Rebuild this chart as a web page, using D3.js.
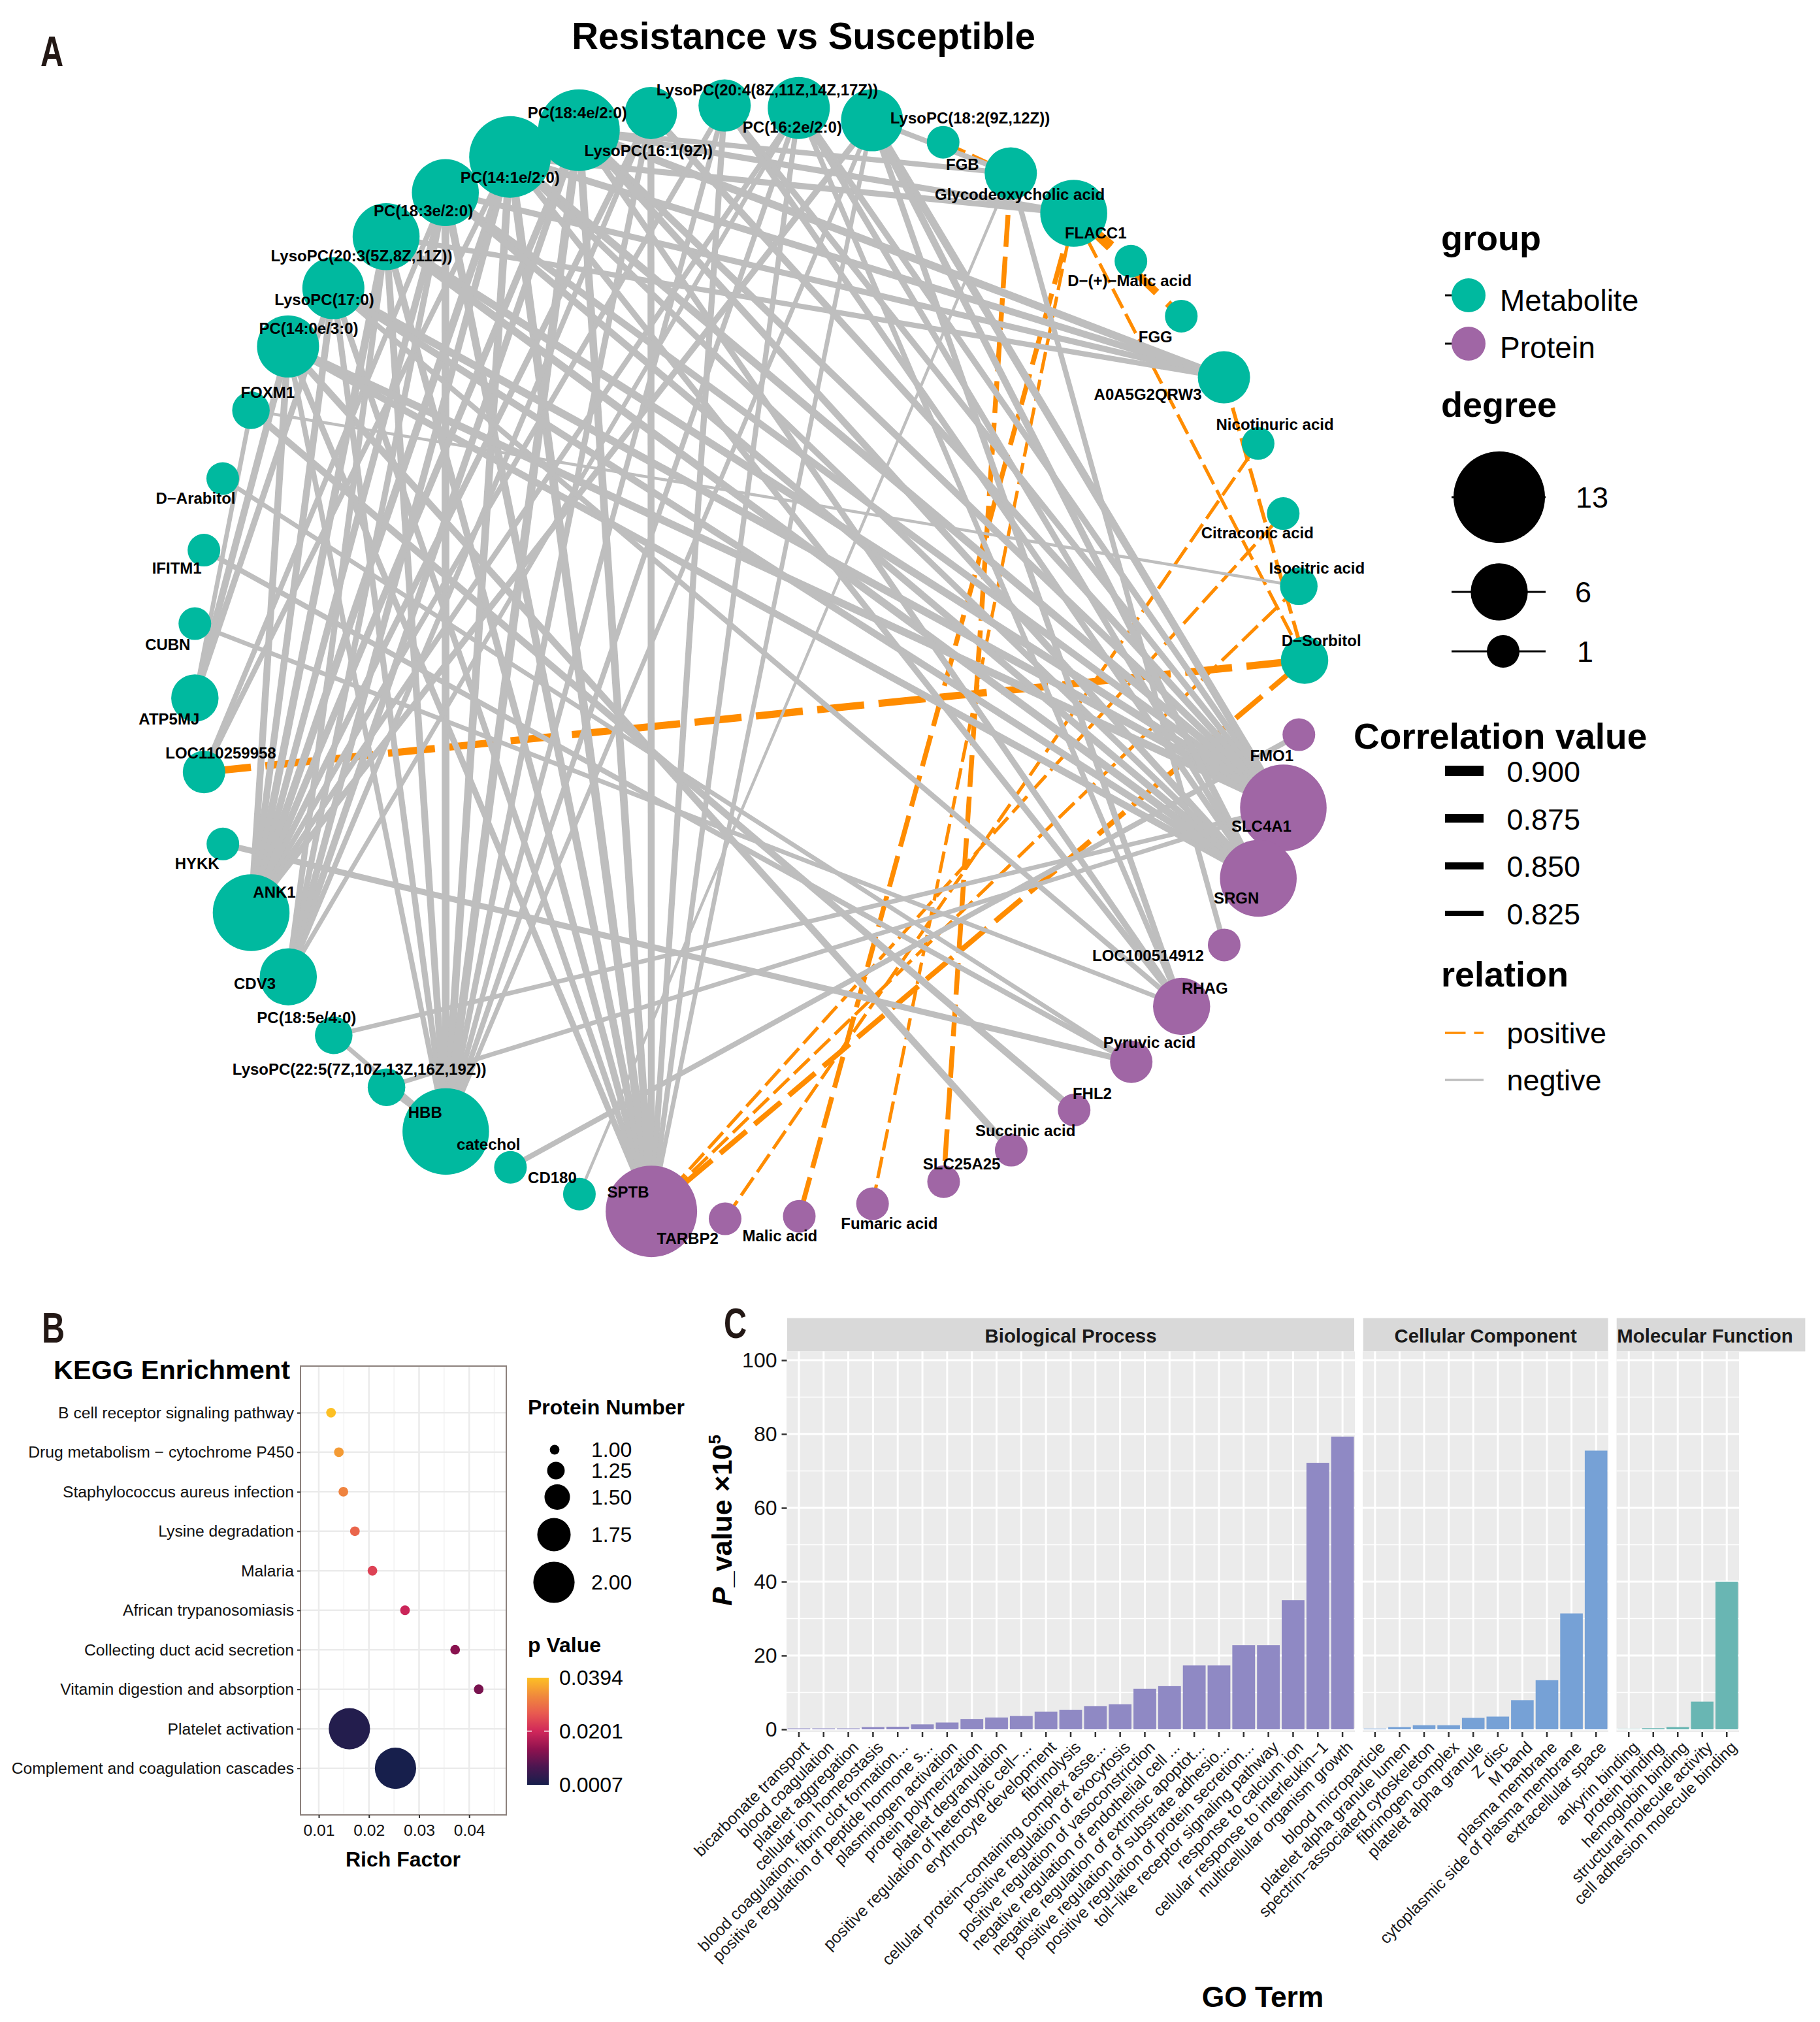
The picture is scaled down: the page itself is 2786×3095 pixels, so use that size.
<!DOCTYPE html>
<html><head><meta charset="utf-8">
<script src="https://cdn.jsdelivr.net/npm/d3@7"></script>
<style>html,body{margin:0;padding:0;background:#fff}svg{display:block}text{font-family:"Liberation Sans",Arial,sans-serif}</style>
</head><body><div id="c"></div>
<script>
// ---------- Panel A data ----------
const nodeNames=["PC(18:4e/2:0)","LysoPC(20:4(8Z,11Z,14Z,17Z))","PC(16:2e/2:0)","LysoPC(18:2(9Z,12Z))","FGB","Glycodeoxycholic acid","FLACC1","D−(+)−Malic acid","FGG","A0A5G2QRW3","Nicotinuric acid","Citraconic acid","Isocitric acid","D−Sorbitol","FMO1","SLC4A1","SRGN","LOC100514912","RHAG","Pyruvic acid","FHL2","Succinic acid","SLC25A25","Fumaric acid","Malic acid","TARBP2","SPTB","CD180","catechol","HBB","LysoPC(22:5(7Z,10Z,13Z,16Z,19Z))","PC(18:5e/4:0)","CDV3","ANK1","HYKK","LOC110259958","ATP5MJ","CUBN","IFITM1","D−Arabitol","FOXM1","PC(14:0e/3:0)","LysoPC(17:0)","LysoPC(20:3(5Z,8Z,11Z))","PC(18:3e/2:0)","PC(14:1e/2:0)","LysoPC(16:1(9Z))"];
const nodeDegrees=[5,5,7,7,1,5,8,1,1,5,1,1,2,4,1,12,10,1,6,3,1,1,1,1,1,1,13,1,1,12,2,2,6,10,1,3,4,1,1,1,2,7,7,8,8,11,11];
const nodeGroups=nodeNames.map((n,i)=>(i>=14&&i<=26)?"Protein":"Metabolite");
// edges: [node number, node number, correlation]
const positiveEdges=[[36,14,.855],[7,8,.86],[7,9,.86],[5,6,.81],[6,23,.825],[7,25,.825],[7,24,.805],[7,14,.805],[10,14,.81],[27,14,.83],[27,13,.805],[27,12,.805],[26,11,.805]];
const negativeEdges=[[4,6,.83],[47,6,.83],[18,6,.83],[28,6,.80],[46,7,.84],[47,7,.84],[13,41,.80],[22,42,.85],[21,41,.85],[20,40,.82],[20,39,.83],[20,35,.84],[19,38,.82],[29,15,.83],[31,16,.82],[32,16,.82],[32,30,.82],[31,30,.83],
[47,10,.86],[46,10,.85],[45,10,.84],[44,10,.83],[36,46,.83],[36,45,.83],[37,41,.82],[37,42,.85],[37,43,.84],
[42,30,.83],[43,30,.84],[44,30,.85],[45,30,.86],[46,30,.86],[47,30,.87],[1,30,.84],[2,30,.83],[3,30,.83],[4,30,.82],
[42,27,.84],[43,27,.84],[44,27,.85],[45,27,.86],[46,27,.87],[47,27,.86],[1,27,.85],[2,27,.84],[3,27,.83],[4,27,.82],
[42,34,.85],[43,34,.85],[44,34,.86],[45,34,.85],[46,34,.86],[47,34,.85],[1,34,.84],[2,34,.83],[3,34,.83],[4,34,.84],
[47,33,.85],[46,33,.85],[45,33,.84],[44,33,.84],[3,33,.82],[1,33,.83],
[42,16,.86],[43,16,.86],[44,16,.86],[45,16,.85],[46,16,.86],[47,16,.85],[1,16,.85],[2,16,.84],[3,16,.84],[4,16,.86],
[42,17,.85],[43,17,.85],[44,17,.86],[45,17,.85],[46,17,.84],[47,17,.85],[2,17,.84],[3,17,.84],[4,17,.85],
[47,19,.84],[46,19,.84],[43,19,.83],[3,19,.83],[4,19,.84]];
const degreeLegend=[13,6,1];
const corrLegend=[.9,.875,.85,.825];
// ---------- Panel B data ----------
const keggTerms=["B cell receptor signaling pathway","Drug metabolism − cytochrome P450","Staphylococcus aureus infection","Lysine degradation","Malaria","African trypanosomiasis","Collecting duct acid secretion","Vitamin digestion and absorption","Platelet activation","Complement and coagulation cascades"];
const keggRich=[.01244,.014,.0149,.0172,.0207,.0272,.0372,.0419,.0161,.0253];
const keggProteins=[1,1,1,1,1,1,1,1,2,2];
const keggP=[.0394,.035,.032,.028,.0235,.0195,.013,.0115,.0022,.0007];
const keggSizeLegend=[1,1.25,1.5,1.75,2];
const keggPLegend=[.0394,.0201,.0007];
// ---------- Panel C data ----------
const bpTerms=["bicarbonate transport","blood coagulation","platelet aggregation","cellular ion homeostasis","blood coagulation, fibrin clot formation...","positive regulation of peptide hormone s...","plasminogen activation","protein polymerization","platelet degranulation","positive regulation of heterotypic cell−...","erythrocyte development","fibrinolysis","cellular protein−containing complex asse...","positive regulation of exocytosis","positive regulation of vasoconstriction","negative regulation of endothelial cell ...","negative regulation of extrinsic apoptot...","positive regulation of substrate adhesio...","positive regulation of protein secretion...","toll−like receptor signaling pathway","response to calcium ion","cellular response to interleukin−1","multicellular organism growth"];
const bpValues=[.25,.25,.25,.6,.7,1.35,1.85,2.8,3.2,3.6,4.8,5.3,6.3,6.8,11,11.7,17.3,17.3,22.8,22.8,35,72.2,79.3];
const ccTerms=["blood microparticle","platelet alpha granule lumen","spectrin−associated cytoskeleton","fibrinogen complex","platelet alpha granule","Z disc","M band","plasma membrane","cytoplasmic side of plasma membrane","extracellular space"];
const ccValues=[.2,.6,1.1,1.1,3.1,3.45,7.9,13.3,31.4,75.5];
const mfTerms=["ankyrin binding","protein binding","hemoglobin binding","structural molecule activity","cell adhesion molecule binding"];
const mfValues=[.1,.3,.6,7.5,40];
const yTicksC=[0,20,40,60,80,100];

// ---------- Layout constants ----------
const W=2786,H=3095;
const svg=d3.select("#c").append("svg").attr("width",W).attr("height",H).attr("viewBox",[0,0,W,H]);
svg.append("rect").attr("width",W).attr("height",H).attr("fill","#fff");
const T=(s,x,y,size,opt={})=>svg.append("text").attr("x",x).attr("y",y).attr("font-size",size).attr("font-weight",opt.b?"bold":"normal").attr("text-anchor",opt.a||"start").attr("fill",opt.c||"#000");
const txt=(str,x,y,size,opt={})=>T(svg,x,y,size,opt).text(str);

// Panel letters (narrow heavy)
[["A",62,101],["B",64,2055],["C",1108,2048]].forEach(([l,x,y])=>{
  svg.append("text").attr("transform",`translate(${x},${y}) scale(0.76,1)`).attr("font-size",64).attr("font-weight","bold").attr("fill","#231815").text(l);
});
txt("Resistance vs Susceptible",1230,75,56.5,{b:1,a:"middle"});

// ---------- Panel A ----------
const GREEN="#00B99F",PURPLE="#A066A5",ORANGE="#FF8C00",GREY="#BEBEBE";
const cx=1147,cy=1011,R=850;
const angle=d3.scaleLinear().domain([1,48]).range([-9.6,350.4]);
const nodeX=k=>{const a=angle(k)*Math.PI/180;return cx+R*Math.sin(a)-9*Math.abs(Math.cos(a))};
const nodeY=k=>{const a=angle(k)*Math.PI/180;return cy-R*Math.cos(a)+5*Math.max(0,-Math.cos(a))};
const rScale=d3.scaleLinear().domain([1,13]).range([25,70]);
const wScale=d3.scaleLinear().domain([.825,.9]).range([7.5,16.5]);
const colorG=d3.scaleOrdinal().domain(["Metabolite","Protein"]).range([GREEN,PURPLE]);
const gE=svg.append("g").attr("fill","none");
gE.selectAll("line.p").data(positiveEdges).join("line").attr("class","p")
  .attr("x1",d=>nodeX(d[0])).attr("y1",d=>nodeY(d[0])).attr("x2",d=>nodeX(d[1])).attr("y2",d=>nodeY(d[1]))
  .attr("stroke",ORANGE).attr("stroke-width",d=>wScale(d[2])).attr("stroke-dasharray",d=>{const w=wScale(d[2]);return `${6.5*w} ${2*w}`});
gE.selectAll("line.n").data(negativeEdges).join("line").attr("class","n")
  .attr("x1",d=>nodeX(d[0])).attr("y1",d=>nodeY(d[0])).attr("x2",d=>nodeX(d[1])).attr("y2",d=>nodeY(d[1]))
  .attr("stroke",GREY).attr("stroke-width",d=>wScale(d[2]));
svg.append("g").selectAll("circle").data(nodeNames).join("circle")
  .attr("cx",(d,i)=>nodeX(i+1)).attr("cy",(d,i)=>nodeY(i+1))
  .attr("r",(d,i)=>rScale(nodeDegrees[i])).attr("fill",(d,i)=>colorG(nodeGroups[i]));
// label offsets from the node centre, in layout units
const labelOffsets=[[-57,0],[33,-12],[-5,15],[76,-2],[15,17],[7,16],[17,15],[-1,15],[-20,16],[-59,13],[13,-15],[-20,15],[14,-14],[13,-15],[-21,16],[-17,14],[-17,15],[-59,8],[18,-14],[14,-15],[14,-13],[11,-15],[14,-14],[13,15],[-15,15],[-29,15],[-18,-15],[-21,-13],[-17,-18],[-16,-15],[-21,-14],[-21,-14],[-26,5],[18,-16],[-20,15],[13,-15],[-20,16],[-21,16],[-21,14],[-21,15],[13,-14],[16,-14],[-7,9],[-19,15],[-17,14],[0,16],[54,16]];
svg.append("g").selectAll("text").data(nodeNames).join("text")
  .attr("x",(d,i)=>nodeX(i+1)+labelOffsets[i][0]*1.975).attr("y",(d,i)=>nodeY(i+1)+labelOffsets[i][1]*1.975+8.5)
  .attr("text-anchor","middle").attr("font-size",24).attr("font-weight","bold").attr("fill","#000").text(d=>d);

// Legends A
txt("group",2206,383,54,{b:1});
colorG.domain().forEach((g,i)=>{
  const y=[452,526][i];
  svg.append("line").attr("x1",2212).attr("x2",2240).attr("y1",y).attr("y2",y).attr("stroke","#000").attr("stroke-width",3);
  svg.append("circle").attr("cx",2248).attr("cy",y).attr("r",26).attr("fill",colorG(g));
  txt(g,2296,[476,548][i],46);
});
txt("degree",2206,638,54,{b:1});
[[761,2295,2412,777],[906,2295,2411,921.6],[997,2301,2414,1013]].forEach(([y,x,lx,ly],i)=>{
  svg.append("line").attr("x1",2222).attr("x2",2366).attr("y1",y).attr("y2",y).attr("stroke","#000").attr("stroke-width",3);
  svg.append("circle").attr("cx",x).attr("cy",y).attr("r",rScale(degreeLegend[i])).attr("fill","#000");
  txt(String(degreeLegend[i]),lx,ly,45);
});
txt("Correlation value",2072,1146,55,{b:1});
const corrLegW=d3.scaleLinear().domain([.825,.9]).range([8,16]);
corrLegend.forEach((v,i)=>{
  const y=1180+i*72.7;
  svg.append("line").attr("x1",2212).attr("x2",2271).attr("y1",y).attr("y2",y).attr("stroke","#000").attr("stroke-width",corrLegW(v));
  txt(d3.format(".3f")(v),2306.5,y+17,45);
});
txt("relation",2206,1510,54,{b:1});
svg.append("line").attr("x1",2212).attr("x2",2271).attr("y1",1581).attr("y2",1581).attr("stroke",ORANGE).attr("stroke-width",3.5).attr("stroke-dasharray","31.5 13");
svg.append("line").attr("x1",2212).attr("x2",2271).attr("y1",1653).attr("y2",1653).attr("stroke",GREY).attr("stroke-width",3.5);
txt("positive",2306.5,1597,45);
txt("negtive",2306.5,1669,45);

// ---------- Panel B ----------
const bB={l:460,r:775,t:2091,b:2778};
const xB=d3.scaleLinear().domain([.00635,.0474]).range([bB.l,bB.r]);
const yB=d3.scalePoint().domain(keggTerms).range([bB.t,bB.b]).padding(1.18);
const sB=d3.scaleLinear().domain([1,2]).range([7.4,31.6]);
const stops=["#171f4c","#4a1650","#8f124f","#d0275a","#e85a50","#f08a3c","#fdc024"];
const cB=d3.scaleLinear().domain(d3.range(7).map(i=>.0007+(.0394-.0007)*i/6)).range(stops);
const gB=svg.append("g");
[.015,.025,.035,.045].forEach(v=>gB.append("line").attr("x1",xB(v)).attr("x2",xB(v)).attr("y1",bB.t).attr("y2",bB.b).attr("stroke","#f2f2f2").attr("stroke-width",1.5));
[.01,.02,.03,.04].forEach(v=>gB.append("line").attr("x1",xB(v)).attr("x2",xB(v)).attr("y1",bB.t).attr("y2",bB.b).attr("stroke","#ebebeb").attr("stroke-width",2.5));
keggTerms.forEach(t=>gB.append("line").attr("x1",bB.l).attr("x2",bB.r).attr("y1",yB(t)).attr("y2",yB(t)).attr("stroke","#ebebeb").attr("stroke-width",2.5));
gB.selectAll("circle").data(keggTerms).join("circle").attr("cx",(d,i)=>xB(keggRich[i])).attr("cy",d=>yB(d)).attr("r",(d,i)=>sB(keggProteins[i])).attr("fill",(d,i)=>cB(keggP[i]));
gB.append("rect").attr("x",bB.l).attr("y",bB.t).attr("width",bB.r-bB.l).attr("height",bB.b-bB.t).attr("fill","none").attr("stroke","#8c817c").attr("stroke-width",2);
const axBx=svg.append("g").attr("transform",`translate(0,${bB.b})`).call(d3.axisBottom(xB).tickValues([.01,.02,.03,.04]).tickFormat(d3.format(".2f")).tickSize(5).tickPadding(9));
const axBy=svg.append("g").attr("transform",`translate(${bB.l},0)`).call(d3.axisLeft(yB).tickSize(5).tickPadding(5));
[axBx,axBy].forEach(a=>{a.select(".domain").remove();a.selectAll("line").attr("stroke","#333").attr("stroke-width",2);a.selectAll("text").attr("font-size",24.7).attr("fill","#111").attr("font-family",'"Liberation Sans"')});
txt("KEGG Enrichment",82,2111,41.5,{b:1});
txt("Rich Factor",617,2857,32,{b:1,a:"middle"});
txt("Protein Number",808,2165,32,{b:1});
[[849,2219],[851,2251],[853,2291.5],[848,2349],[848,2422]].forEach(([x,y],i)=>{
  svg.append("circle").attr("cx",x).attr("cy",y).attr("r",sB(keggSizeLegend[i])).attr("fill","#000");
  txt(d3.format(".2f")(keggSizeLegend[i]),905,y+11,32);
});
txt("p Value",808,2529,32,{b:1});
const grad=svg.append("defs").append("linearGradient").attr("id","pg").attr("x1",0).attr("x2",0).attr("y1",1).attr("y2",0);
stops.forEach((c,i)=>grad.append("stop").attr("offset",i/6).attr("stop-color",c));
svg.append("rect").attr("x",807).attr("y",2568).attr("width",33).attr("height",164).attr("fill","url(#pg)");
const yLeg=d3.scaleLinear().domain([.0007,.0394]).range([2732,2568]);
keggPLegend.forEach(v=>{
  if(v==.0201){svg.append("line").attr("x1",807).attr("x2",814).attr("y1",yLeg(v)).attr("y2",yLeg(v)).attr("stroke","#fff").attr("stroke-width",1.5);svg.append("line").attr("x1",833).attr("x2",840).attr("y1",yLeg(v)).attr("y2",yLeg(v)).attr("stroke","#fff").attr("stroke-width",1.5);}
  txt(String(v),856,yLeg(v)+11,32);
});

// ---------- Panel C ----------
const yC=d3.scaleLinear().domain([0,100]).range([2647,2082]);
const pTop=2068.5,pBot=2651;
const facets=[
 {name:"Biological Process",terms:bpTerms,vals:bpValues,color:"#8F89C4",l:1204,r:2074,sl:1205,sr:2073},
 {name:"Cellular Component",terms:ccTerms,vals:ccValues,color:"#76A1D6",l:2086,r:2462,sl:2086.7,sr:2461.6},
 {name:"Molecular Function",terms:mfTerms,vals:mfValues,color:"#69B6B3",l:2474.5,r:2662,sl:2474.7,sr:2763.4,tc:2610}
];
facets.forEach(f=>{
  const g=svg.append("g");
  const xC=d3.scaleBand().domain(f.terms).range([f.l,f.r]).paddingInner(.08).paddingOuter(.04);
  g.append("rect").attr("x",f.sl).attr("y",2017.5).attr("width",f.sr-f.sl).attr("height",51).attr("fill","#D9D9D9");
  g.append("text").attr("x",f.tc||(f.sl+f.sr)/2).attr("y",2054.5).attr("text-anchor","middle").attr("font-size",29.4).attr("font-weight","bold").attr("fill","#1a1a1a").text(f.name);
  g.append("rect").attr("x",f.l).attr("y",pTop).attr("width",f.r-f.l).attr("height",pBot-pTop).attr("fill","#EBEBEB");
  [10,30,50,70,90].forEach(v=>g.append("line").attr("x1",f.l).attr("x2",f.r).attr("y1",yC(v)).attr("y2",yC(v)).attr("stroke","#fff").attr("stroke-width",1.5));
  yTicksC.forEach(v=>g.append("line").attr("x1",f.l).attr("x2",f.r).attr("y1",yC(v)).attr("y2",yC(v)).attr("stroke","#fff").attr("stroke-width",3));
  f.terms.forEach(t=>{const x=xC(t)+xC.bandwidth()/2;g.append("line").attr("x1",x).attr("x2",x).attr("y1",pTop).attr("y2",pBot).attr("stroke","#fff").attr("stroke-width",3)});
  g.selectAll("rect.bar").data(f.terms).join("rect").attr("class","bar")
    .attr("x",d=>xC(d)).attr("width",xC.bandwidth()).attr("y",(d,i)=>yC(f.vals[i])).attr("height",(d,i)=>yC(0)-yC(f.vals[i])).attr("fill",f.color);
  const ax=svg.append("g").attr("transform",`translate(0,${pBot})`).call(d3.axisBottom(xC).tickSize(8).tickPadding(6));
  ax.select(".domain").remove();
  ax.selectAll("line").attr("stroke","#333").attr("stroke-width",2.5);
  ax.selectAll("text").attr("font-size",25).attr("fill","#1a1a1a").attr("text-anchor","end").attr("font-family",'"Liberation Sans"')
    .attr("transform","translate(11,19) rotate(-45)").attr("x",0).attr("y",0).attr("dy","0.35em");
});
const axC=svg.append("g").attr("transform","translate(1204.5,0)").call(d3.axisLeft(yC).tickValues(yTicksC).tickSize(8).tickPadding(7));
axC.select(".domain").remove();
axC.selectAll("line").attr("stroke","#333").attr("stroke-width",2.5);
axC.selectAll("text").attr("font-size",32).attr("fill","#111").attr("font-family",'"Liberation Sans"');
const yTitle=svg.append("text").attr("transform","translate(1120,2327) rotate(-90)").attr("text-anchor","middle").attr("font-size",43).attr("font-weight","bold").attr("fill","#000");
yTitle.append("tspan").attr("font-style","italic").text("P");
yTitle.append("tspan").text("_value ×10");
yTitle.append("tspan").attr("font-size",26).attr("dy",-17).text("5");
txt("GO Term",1933,3072,44.4,{b:1,a:"middle"});
</script></body></html>
